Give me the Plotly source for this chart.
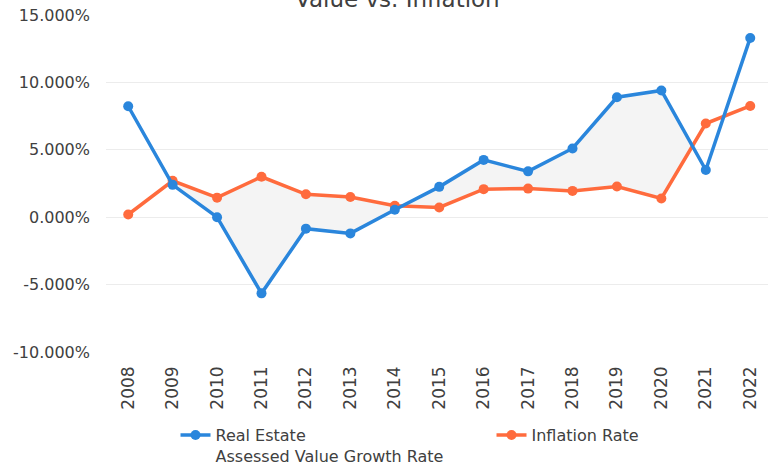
import plotly.graph_objects as go

years = list(range(2008, 2023))
year_labels = [str(y) for y in years]
real_estate = [8.23, 2.40, 0.00, -5.65, -0.85, -1.20, 0.55, 2.25, 4.25, 3.40, 5.10, 8.90, 9.40, 3.50, 13.30]
inflation = [0.20, 2.70, 1.45, 3.00, 1.70, 1.50, 0.85, 0.72, 2.08, 2.12, 1.95, 2.28, 1.39, 6.95, 8.25]
y_tickvals = [15, 10, 5, 0, -5, -10]
y_ticktext = ["15.000%", "10.000%", "5.000%", "0.000%", "-5.000%", "-10.000%"]

BLUE = "#2a86dc"
ORANGE = "#ff6b3d"
TEXT = "#404040"
FONT = "DejaVu Sans, Arial, sans-serif"

# shaded band between the two series from 2009 to the 2020/2021 crossing
i0, i1 = 1, 12
d0 = real_estate[i1] - inflation[i1]
d1 = real_estate[i1 + 1] - inflation[i1 + 1]
t = d0 / (d0 - d1)
xc = years[i1] + t
yc = real_estate[i1] + t * (real_estate[i1 + 1] - real_estate[i1])
fx = years[i0:i1 + 1] + [xc]
fy_re = real_estate[i0:i1 + 1] + [yc]
fy_inf = inflation[i0:i1 + 1] + [yc]

fig = go.Figure()
fig.add_trace(go.Scatter(x=fx, y=fy_inf, mode="lines", line=dict(width=0),
                         showlegend=False, hoverinfo="skip"))
fig.add_trace(go.Scatter(x=fx, y=fy_re, mode="lines", line=dict(width=0),
                         fill="tonexty", fillcolor="#f4f4f4",
                         showlegend=False, hoverinfo="skip"))
fig.add_trace(go.Scatter(x=years, y=inflation, mode="lines+markers",
                         name="Inflation Rate", cliponaxis=False,
                         line=dict(color=ORANGE, width=3.5),
                         marker=dict(color=ORANGE, size=10)))
fig.add_trace(go.Scatter(x=years, y=real_estate, mode="lines+markers",
                         name="Real Estate<br>Assessed Value Growth Rate",
                         cliponaxis=False,
                         line=dict(color=BLUE, width=3.5),
                         marker=dict(color=BLUE, size=10)))

fig.update_layout(
    width=768, height=465,
    margin=dict(l=106, r=0, t=15, b=113, autoexpand=False),
    paper_bgcolor="white", plot_bgcolor="white",
    font=dict(family=FONT, color=TEXT, size=16),
    legend=dict(orientation="h", x=0.105, y=-0.196, xanchor="left", yanchor="top",
                traceorder="reversed", valign="top",
                entrywidth=271, entrywidthmode="pixels",
                font=dict(family=FONT, size=16, color=TEXT)),
    annotations=[dict(text="Value vs. Inflation", xref="paper", yref="paper",
                      x=0.44, y=1, yanchor="middle", yshift=16, showarrow=False,
                      font=dict(family=FONT, size=23, color=TEXT))],
)
fig.update_xaxes(tickmode="array", tickvals=years, ticktext=year_labels,
                 tickangle=-90, range=[2007.5, 2022.4], showgrid=False,
                 zeroline=False, showline=False, ticks="", automargin=False,
                 ticklabelstandoff=10, tickfont=dict(family=FONT, size=17, color=TEXT))
fig.update_yaxes(range=[-10, 15], tickmode="array", tickvals=y_tickvals,
                 ticktext=y_ticktext, showgrid=True, gridcolor="#ececec",
                 gridwidth=1, zeroline=False, showline=False, automargin=False,
                 ticklabelstandoff=15,
                 tickfont=dict(family=FONT, size=16, color=TEXT), ticks="")

fig.write_html("out.html", config={"displayModeBar": False},
               post_script="document.body.style.margin='0px';")
